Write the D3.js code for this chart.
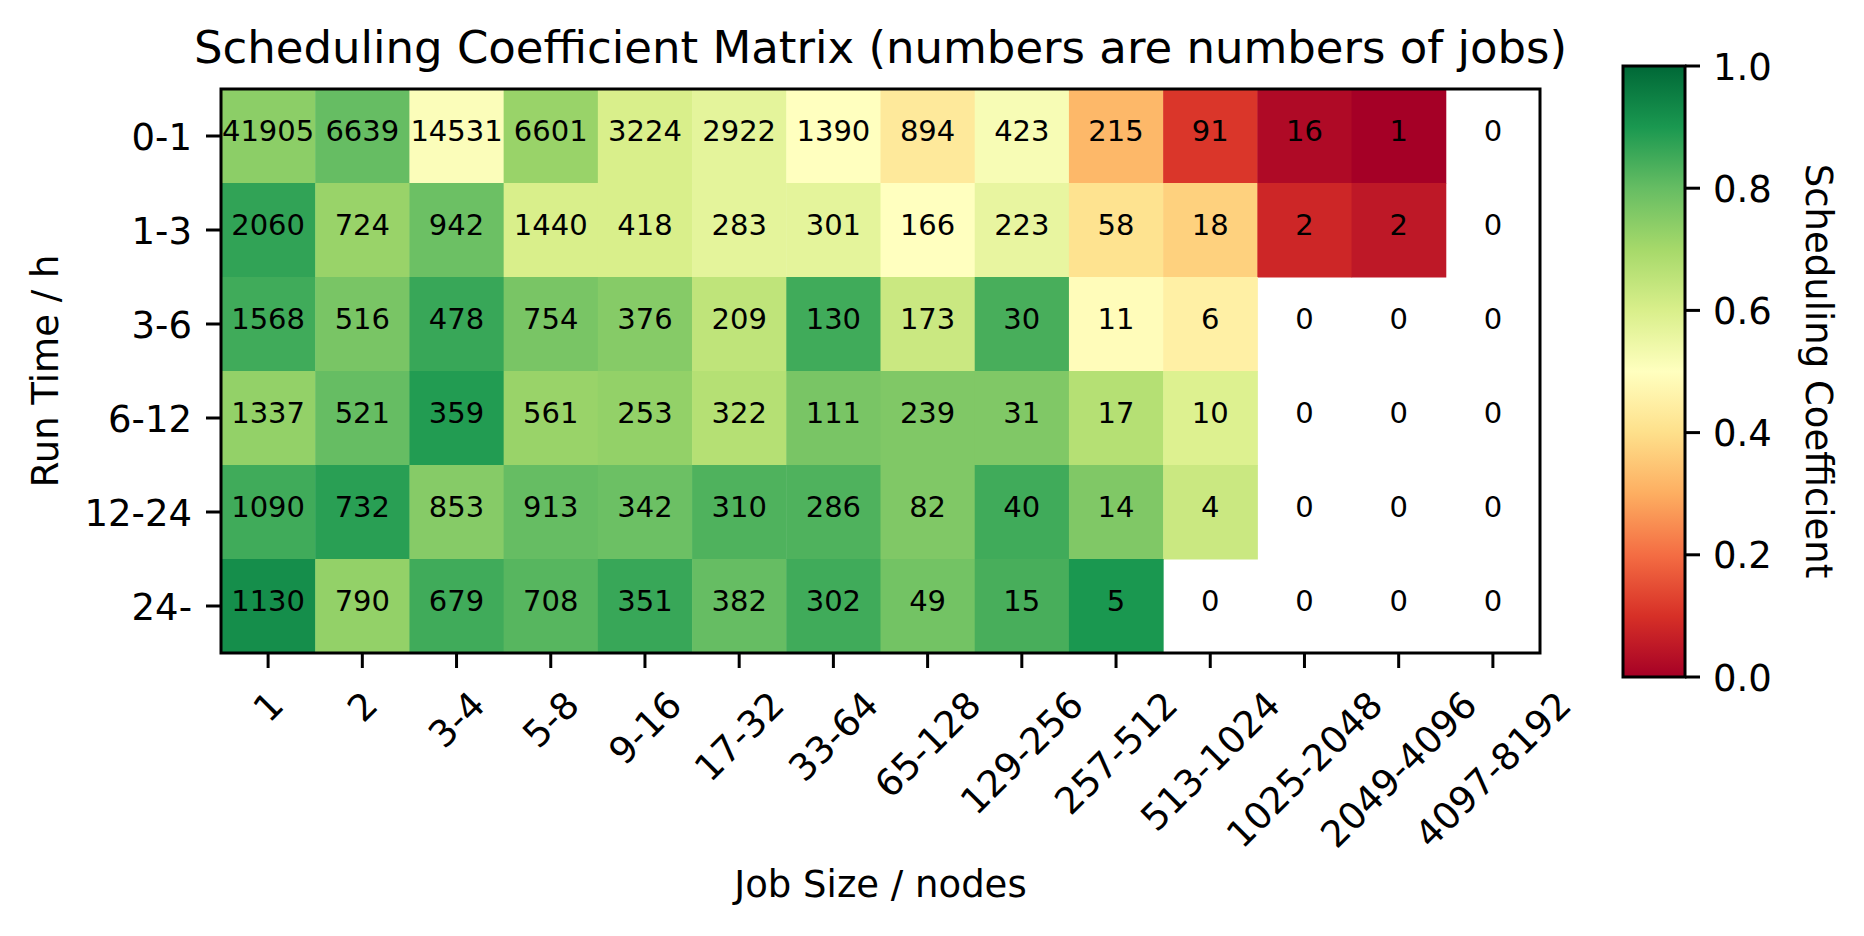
<!DOCTYPE html>
<html>
<head>
<meta charset="utf-8">
<script src="https://cdn.jsdelivr.net/npm/d3@7/dist/d3.min.js"></script>
<style>
  html, body { margin: 0; padding: 0; background: #fff; }
  svg text { font-family: "DejaVu Sans", sans-serif; fill: #000; }
</style>
</head>
<body>
<svg id="chart" width="1864" height="936"></svg>
<script>
// ---- data ----
const jobSizes = ["1","2","3-4","5-8","9-16","17-32","33-64","65-128","129-256","257-512","513-1024","1025-2048","2049-4096","4097-8192"];
const runTimes = ["0-1","1-3","3-6","6-12","12-24","24-"];
const jobCounts = [
  [41905, 6639, 14531, 6601, 3224, 2922, 1390, 894, 423, 215, 91, 16, 1, 0],
  [2060, 724, 942, 1440, 418, 283, 301, 166, 223, 58, 18, 2, 2, 0],
  [1568, 516, 478, 754, 376, 209, 130, 173, 30, 11, 6, 0, 0, 0],
  [1337, 521, 359, 561, 253, 322, 111, 239, 31, 17, 10, 0, 0, 0],
  [1090, 732, 853, 913, 342, 310, 286, 82, 40, 14, 4, 0, 0, 0],
  [1130, 790, 679, 708, 351, 382, 302, 49, 15, 5, 0, 0, 0, 0]
];
// scheduling coefficient (null = no jobs, drawn blank)
const coefficients = [
  [0.74, 0.80, 0.51, 0.72, 0.60, 0.57, 0.50, 0.43, 0.52, 0.32, 0.11, 0.02, 0.00, null],
  [0.87, 0.72, 0.79, 0.60, 0.60, 0.57, 0.57, 0.50, 0.56, 0.41, 0.37, 0.08, 0.05, null],
  [0.85, 0.77, 0.86, 0.77, 0.75, 0.65, 0.85, 0.63, 0.84, 0.49, 0.45, null, null, null],
  [0.73, 0.80, 0.89, 0.72, 0.73, 0.67, 0.77, 0.76, 0.76, 0.67, 0.59, null, null, null],
  [0.85, 0.88, 0.75, 0.80, 0.79, 0.83, 0.83, 0.76, 0.85, 0.76, 0.63, null, null, null],
  [0.92, 0.73, 0.85, 0.82, 0.86, 0.80, 0.85, 0.78, 0.84, 0.90, null, null, null, null]
];
const colorbarTicks = [0.0, 0.2, 0.4, 0.6, 0.8, 1.0];
const rdylgn = ["#a50026","#d73027","#f46d43","#fdae61","#fee08b","#ffffbf","#d9ef8b","#a6d96a","#66bd63","#1a9850","#006837"];

// ---- layout ----
const svg = d3.select("#chart");
const plot = {left: 221, right: 1540, top: 89, bottom: 653};
const cb = {left: 1623, right: 1685, top: 66, bottom: 677};
const lw = 3;
const tickFs = 37, labelFs = 37, titleFs = 45, annFs = 29;

const x = d3.scaleBand().domain(jobSizes).range([plot.left, plot.right]).padding(0);
const y = d3.scaleBand().domain(runTimes).range([plot.top, plot.bottom]).padding(0);
const color = d3.scaleLinear()
  .domain(d3.range(rdylgn.length).map(i => i / (rdylgn.length - 1)))
  .range(rdylgn)
  .interpolate(d3.interpolateRgb)
  .clamp(true);

const cells = [];
runTimes.forEach((r, i) => jobSizes.forEach((s, j) => {
  cells.push({r, s, n: jobCounts[i][j], c: coefficients[i][j]});
}));

// cells
svg.append("g").selectAll("rect")
  .data(cells.filter(d => d.c !== null))
  .join("rect")
  .attr("x", d => x(d.s))
  .attr("y", d => y(d.r))
  .attr("width", x.bandwidth() + 0.5)
  .attr("height", y.bandwidth() + 0.5)
  .attr("fill", d => color(d.c));

// annotations
svg.append("g").selectAll("text")
  .data(cells)
  .join("text")
  .attr("x", d => x(d.s) + x.bandwidth() / 2)
  .attr("y", d => y(d.r) + y.bandwidth() / 2 + 5)
  .attr("text-anchor", "middle")
  .style("font-size", annFs + "px")
  .text(d => d.n);

// frame
svg.append("rect")
  .attr("x", plot.left).attr("y", plot.top)
  .attr("width", plot.right - plot.left).attr("height", plot.bottom - plot.top)
  .attr("fill", "none").attr("stroke", "#000").attr("stroke-width", lw);

// x axis ticks
const tickLen = 15;
const gx = svg.append("g");
gx.selectAll("line").data(jobSizes).join("line")
  .attr("x1", d => x(d) + x.bandwidth() / 2).attr("x2", d => x(d) + x.bandwidth() / 2)
  .attr("y1", plot.bottom).attr("y2", plot.bottom + tickLen)
  .attr("stroke", "#000").attr("stroke-width", lw);
const xTop = plot.bottom + tickLen + 15;
gx.selectAll("text").data(jobSizes).join("text")
  .style("font-size", tickFs + "px")
  .attr("text-anchor", "middle")
  .attr("dy", "0.35em")
  .text(d => d)
  .each(function(d) {
    const w = this.getComputedTextLength();
    const h = tickFs * 1.164;
    const side = (w + h) / Math.SQRT2;
    const cx = x(d) + x.bandwidth() / 2;
    const cy = xTop + side / 2;
    d3.select(this).attr("transform", `translate(${cx},${cy}) rotate(-45)`);
  });

// y axis ticks
const gy = svg.append("g");
gy.selectAll("line").data(runTimes).join("line")
  .attr("x1", plot.left - tickLen).attr("x2", plot.left)
  .attr("y1", d => y(d) + y.bandwidth() / 2).attr("y2", d => y(d) + y.bandwidth() / 2)
  .attr("stroke", "#000").attr("stroke-width", lw);
gy.selectAll("text").data(runTimes).join("text")
  .attr("x", plot.left - tickLen - 14)
  .attr("y", d => y(d) + y.bandwidth() / 2 + 13.5)
  .attr("text-anchor", "end")
  .style("font-size", tickFs + "px")
  .text(d => d);

// title and axis labels
svg.append("text")
  .attr("x", (plot.left + plot.right) / 2).attr("y", 63)
  .attr("text-anchor", "middle").style("font-size", titleFs + "px")
  .text("Scheduling Coefficient Matrix (numbers are numbers of jobs)");
svg.append("text")
  .attr("x", (plot.left + plot.right) / 2).attr("y", 897)
  .attr("text-anchor", "middle").style("font-size", labelFs + "px")
  .text("Job Size / nodes");
svg.append("text")
  .attr("transform", `translate(58,${(plot.top + plot.bottom) / 2}) rotate(-90)`)
  .attr("text-anchor", "middle").style("font-size", labelFs + "px")
  .text("Run Time / h");

// colorbar
const defs = svg.append("defs");
const grad = defs.append("linearGradient").attr("id", "cbgrad")
  .attr("x1", 0).attr("y1", 1).attr("x2", 0).attr("y2", 0);
grad.selectAll("stop").data(rdylgn).join("stop")
  .attr("offset", (d, i) => i / (rdylgn.length - 1))
  .attr("stop-color", d => d);
const cy = d3.scaleLinear().domain([0, 1]).range([cb.bottom, cb.top]);
svg.append("rect")
  .attr("x", cb.left).attr("y", cb.top)
  .attr("width", cb.right - cb.left).attr("height", cb.bottom - cb.top)
  .attr("fill", "url(#cbgrad)").attr("stroke", "#000").attr("stroke-width", lw);
const gc = svg.append("g");
gc.selectAll("line").data(colorbarTicks).join("line")
  .attr("x1", cb.right).attr("x2", cb.right + tickLen)
  .attr("y1", d => cy(d)).attr("y2", d => cy(d))
  .attr("stroke", "#000").attr("stroke-width", lw);
gc.selectAll("text").data(colorbarTicks).join("text")
  .attr("x", 1713)
  .attr("y", d => cy(d) + 13.5)
  .style("font-size", tickFs + "px")
  .text(d => d.toFixed(1));
svg.append("text")
  .attr("transform", `translate(1806,${(plot.top + plot.bottom) / 2}) rotate(90)`)
  .attr("text-anchor", "middle").style("font-size", labelFs + "px")
  .text("Scheduling Coefficient");
</script>
</body>
</html>
